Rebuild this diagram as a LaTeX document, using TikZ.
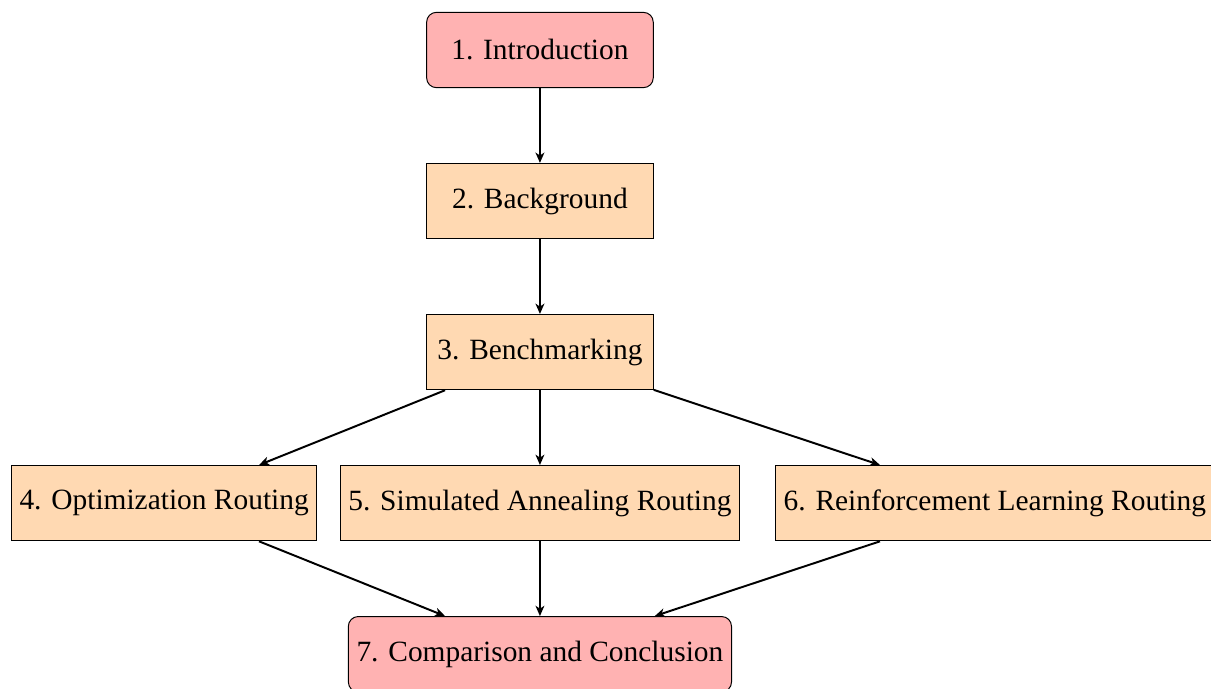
\documentclass[tikz,border=0pt]{standalone}
\usepackage{fontspec}
\setmainfont{Liberation Serif}
\usepackage{tikz}
\usetikzlibrary{arrows.meta,positioning,calc}
\tikzset{
  endbox/.style={rectangle,rounded corners,draw,fill=red!30,minimum width=3.25cm,minimum height=1.08cm,font=\fontsize{12}{14}\selectfont},
  partbox/.style={rectangle,draw,fill=orange!30,minimum width=3.25cm,minimum height=1.08cm,font=\fontsize{12}{14}\selectfont},
  flow/.style={-{Stealth[length=4.2pt,width=3.6pt,inset=1.2pt]}, thick}
}

\begin{document}
\begin{tikzpicture}[node distance=1.072cm]
  \useasboundingbox (-220.3pt,20.4pt) rectangle (273.8pt,-260.7pt);

  % main chain
  \node[endbox] (intro) at (0,0) {1. Introduction};
  \node[partbox, below=of intro] (backgr) {2. Background};
  \node[partbox, below=of backgr] (bench) {3. Benchmarking};

  % routing methods
  \node[partbox, below=of bench] (sa) {5. Simulated Annealing Routing};
  \node[partbox, left=0.32cm of sa] (opt) {4. Optimization Routing};
  \node[partbox, right=0.5cm of sa] (rl) {6. Reinforcement Learning Routing};

  % conclusion
  \node[endbox, below=of sa] (concl) {7. Comparison and Conclusion};

  % arrows
  \draw[flow] (intro) -- (backgr);
  \draw[flow] (backgr) -- (bench);
  \foreach \m in {opt,sa,rl} {
    \draw[flow] (bench) -- (\m);
    \draw[flow] (\m) -- (concl);
  }
\end{tikzpicture}
\end{document}
